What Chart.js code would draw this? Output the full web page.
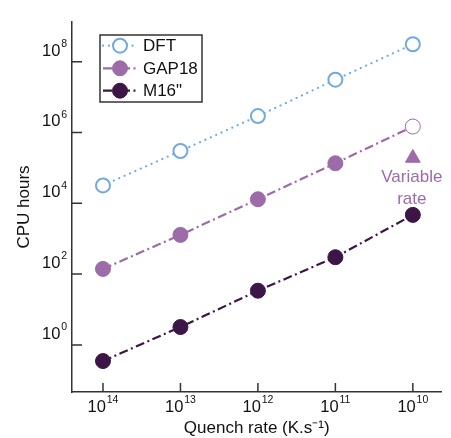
<!DOCTYPE html>
<html>
<head>
<meta charset="utf-8">
<script src="https://cdn.jsdelivr.net/npm/chart.js@4"></script>
<style>
  html, body { margin: 0; padding: 0; background: #fff; }
  canvas { display: block; }
</style>
</head>
<body>
<canvas id="chart" width="451" height="438"></canvas>
<script>
// quench rate exponents (K/s), plotted high to low
const rates = [14, 13, 12, 11, 10];
const dftHours = [3.2e4, 3.0e5, 2.9e6, 3.1e7, 3.1e8];
const gapHours = [140, 1280, 1.3e4, 1.35e5, 1.47e6];
const m16Hours = [0.35, 3.2, 34, 300, 4700];
const variableRate = [{ x: 10, y: 1.9e5 }];
const yTicks = [1, 1e2, 1e4, 1e6, 1e8];
const xTicks = [14, 13, 12, 11, 10];

const FONT = "'Liberation Sans', Arial, Helvetica, sans-serif";
const DFT_COLOR = "#72aadd";
const GAP_COLOR = "#9c6ba8";
const M16_COLOR = "#3c1646";
const AXIS_COLOR = "#333333";
const TEXT_COLOR = "#111111";

const toPoints = (arr) => arr.map((v, i) => ({ x: rates[i], y: v }));

// "10" with a raised exponent; anchor is the right edge or the centre
function powerLabel(ctx, exp, x, baseline, align) {
  const base = "10";
  const e = String(exp);
  ctx.font = "16.5px " + FONT;
  const wb = ctx.measureText(base).width;
  ctx.font = "10.5px " + FONT;
  const we = ctx.measureText(e).width;
  const w = wb + 0.8 + we;
  const left = align === "right" ? x - w : x - w / 2;
  ctx.textAlign = "left";
  ctx.textBaseline = "alphabetic";
  ctx.fillStyle = TEXT_COLOR;
  ctx.font = "16.5px " + FONT;
  ctx.fillText(base, left, baseline);
  ctx.font = "10.5px " + FONT;
  ctx.fillText(e, left + wb + 0.8, baseline - 8.7);
}

// tick marks inside the plot, tick labels, legend box and the "Variable rate" note
const extras = {
  id: "extras",
  afterDraw(chart) {
    const { ctx, chartArea, scales } = chart;
    const x = scales.x;
    const y = scales.y;
    ctx.save();
    ctx.strokeStyle = AXIS_COLOR;
    ctx.lineWidth = 1.5;
    ctx.beginPath();
    xTicks.forEach((t) => {
      const px = x.getPixelForValue(t);
      ctx.moveTo(px, chartArea.bottom);
      ctx.lineTo(px, chartArea.bottom - 9);
    });
    yTicks.forEach((t) => {
      const py = y.getPixelForValue(t);
      ctx.moveTo(chartArea.left, py);
      ctx.lineTo(chartArea.left + 10, py);
    });
    ctx.stroke();

    xTicks.forEach((t) => {
      powerLabel(ctx, t, x.getPixelForValue(t), chartArea.bottom + 20, "center");
    });
    yTicks.forEach((t) => {
      powerLabel(ctx, Math.round(Math.log10(t)), chartArea.left - 5, y.getPixelForValue(t) - 6, "right");
    });

    // legend
    ctx.fillStyle = "#fff";
    ctx.fillRect(100, 35, 102, 67);
    ctx.strokeStyle = AXIS_COLOR;
    ctx.lineWidth = 1.5;
    ctx.strokeRect(100, 35, 102, 67);
    const rows = [45.7, 68.3, 90.7];
    chart.data.datasets.slice(0, 3).forEach((ds, i) => {
      const ry = rows[i];
      ctx.save();
      ctx.strokeStyle = ds.borderColor;
      ctx.lineWidth = ds.borderWidth;
      ctx.lineCap = ds.borderCapStyle || "butt";
      ctx.setLineDash(ds.borderDash || []);
      ctx.beginPath();
      ctx.moveTo(103, ry);
      ctx.lineTo(137, ry);
      ctx.stroke();
      ctx.setLineDash([]);
      ctx.beginPath();
      ctx.arc(120, ry, ds.pointRadius, 0, Math.PI * 2);
      const bg = Array.isArray(ds.pointBackgroundColor) ? ds.pointBackgroundColor[0] : ds.pointBackgroundColor;
      ctx.fillStyle = bg;
      ctx.fill();
      ctx.lineWidth = ds.pointBorderWidth;
      ctx.strokeStyle = ds.pointBorderColor;
      ctx.stroke();
      ctx.restore();
      ctx.fillStyle = TEXT_COLOR;
      ctx.font = "17px " + FONT;
      ctx.textBaseline = "middle";
      ctx.textAlign = "left";
      ctx.fillText(ds.label, 143, ry + 1);
    });

    // variable rate note under the triangle
    const vx = x.getPixelForValue(variableRate[0].x);
    const vy = y.getPixelForValue(variableRate[0].y);
    ctx.fillStyle = GAP_COLOR;
    ctx.font = "17px " + FONT;
    ctx.textAlign = "center";
    ctx.textBaseline = "middle";
    ctx.fillText("Variable", vx - 1, vy + 19);
    ctx.fillText("rate", vx - 1, vy + 41);
    ctx.restore();
  },
};

new Chart(document.getElementById("chart"), {
  type: "line",
  data: {
    datasets: [
      {
        label: "DFT",
        data: toPoints(dftHours),
        borderColor: DFT_COLOR,
        borderWidth: 2.2,
        borderDash: [0.1, 5.8],
        borderCapStyle: "round",
        pointRadius: 7,
        pointBorderWidth: 2,
        pointBorderColor: DFT_COLOR,
        pointBackgroundColor: "#fff",
      },
      {
        label: "GAP18",
        data: toPoints(gapHours),
        borderColor: GAP_COLOR,
        borderWidth: 2.2,
        borderDash: [9, 3.5, 2, 3.5],
        pointRadius: 7.5,
        pointBorderWidth: 1,
        pointBorderColor: GAP_COLOR,
        pointBackgroundColor: [GAP_COLOR, GAP_COLOR, GAP_COLOR, GAP_COLOR, "#fff"],
      },
      {
        label: "M16\"",
        data: toPoints(m16Hours),
        borderColor: M16_COLOR,
        borderWidth: 2.2,
        borderDash: [9, 3.5, 2, 3.5],
        pointRadius: 7.5,
        pointBorderWidth: 1,
        pointBorderColor: M16_COLOR,
        pointBackgroundColor: M16_COLOR,
      },
      {
        label: "Variable rate",
        data: variableRate,
        showLine: false,
        pointStyle: "triangle",
        pointRadius: 8.5,
        pointBorderWidth: 1,
        pointBackgroundColor: GAP_COLOR,
        pointBorderColor: GAP_COLOR,
      },
    ],
  },
  options: {
    responsive: false,
    animation: false,
    devicePixelRatio: 1,
    layout: { padding: { top: 22, right: 1, left: 0, bottom: 0 } },
    plugins: { legend: { display: false }, tooltip: { enabled: false } },
    scales: {
      x: {
        type: "linear",
        reverse: true,
        min: 9.63,
        max: 14.4,
        afterBuildTicks: (s) => { s.ticks = xTicks.map((v) => ({ value: v })); },
        afterFit: (s) => { s.height = 46; },
        grid: { drawOnChartArea: false, drawTicks: false },
        border: { display: true, color: AXIS_COLOR, width: 1.5 },
        ticks: { display: false },
        title: {
          display: true,
          text: "Quench rate (K.s\u207b\u00b9)",
          color: TEXT_COLOR,
          font: { family: FONT, size: 17, lineHeight: 1.1 },
          padding: { top: 0, bottom: 0 },
        },
      },
      y: {
        type: "logarithmic",
        min: Math.pow(10, -1.33),
        max: Math.pow(10, 9.12),
        afterBuildTicks: (s) => { s.ticks = yTicks.map((v) => ({ value: v })); },
        afterFit: (s) => { s.width = 72; },
        grid: { drawOnChartArea: false, drawTicks: false },
        border: { display: true, color: AXIS_COLOR, width: 1.5 },
        ticks: { display: false },
        title: {
          display: true,
          text: "CPU hours",
          color: TEXT_COLOR,
          font: { family: FONT, size: 17 },
          padding: { top: 14, bottom: 0 },
        },
      },
    },
  },
  plugins: [extras],
});
</script>
</body>
</html>
